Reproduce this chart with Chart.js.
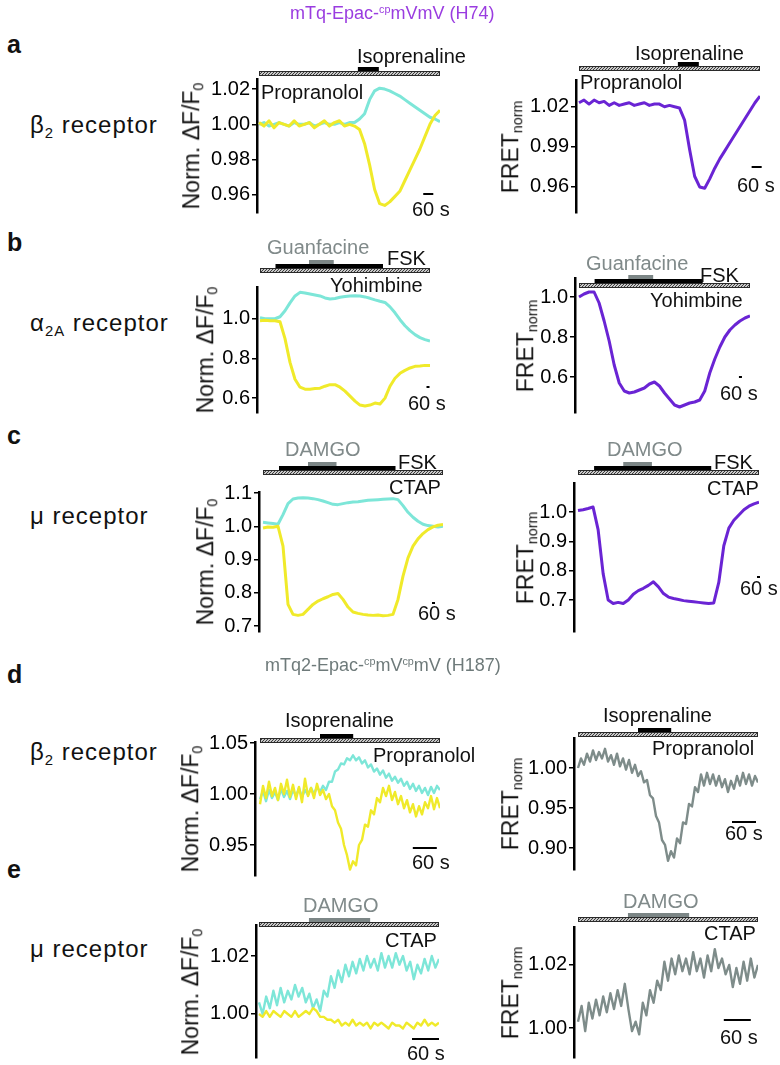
<!DOCTYPE html>
<html>
<head>
<meta charset="utf-8">
<script src="https://cdn.jsdelivr.net/npm/chart.js@4.4.1/dist/chart.umd.min.js"></script>
<style>
body { margin: 0; background: #fff; }
#fig { position: relative; width: 780px; height: 1065px; overflow: hidden; font-family: "Liberation Sans", Arial, sans-serif; color: #111; }
.t { position: absolute; white-space: nowrap; line-height: 1; font-size: 20px; transform: translateY(-50%); }
.t sup { font-size: 0.6em; vertical-align: 0.55em; }
.t sub { font-size: 0.62em; vertical-align: -0.3em; }
canvas { position: absolute; }
</style>
</head>
<body>
<div id="fig"></div>
<script>
// ---- data ----
// time in seconds for each trace
const aTime = [0,30,60,90,120,150,180,210,240,270,300,330,360,390,420,450,480,510,540,570,600,630,660,690,720,750,780,810,840,870,900,930,960,990,1020,1050,1080];
const aLeftYellow = [1.001,0.999,1.002,0.998,1.001,1.000,0.999,1.002,0.999,1.000,1.001,0.998,1.000,1.002,0.999,1.001,1.002,0.999,1.000,0.999,0.997,0.989,0.977,0.963,0.955,0.954,0.956,0.959,0.962,0.968,0.974,0.980,0.986,0.993,1.000,1.005,1.008];
const aLeftCyan = [1.000,1.001,0.999,1.000,1.001,1.000,0.999,1.001,1.000,1.000,1.001,0.999,1.000,1.001,1.000,1.000,1.001,1.000,1.001,1.001,1.003,1.006,1.014,1.019,1.0205,1.020,1.019,1.0175,1.016,1.014,1.012,1.010,1.008,1.006,1.004,1.003,1.0015];
const aRightFret = [1.023,1.025,1.022,1.025,1.023,1.024,1.021,1.023,1.021,1.022,1.023,1.021,1.022,1.023,1.021,1.022,1.022,1.020,1.021,1.020,1.019,1.010,0.988,0.968,0.960,0.959,0.966,0.974,0.981,0.987,0.993,0.999,1.005,1.011,1.017,1.023,1.028];

const bTime = [0,100,200,300,400,500,600,700,800,900,1000,1100,1200,1300,1400,1500,1600,1700,1800,1900,2000,2100,2200,2300,2400,2500,2600,2700,2800,2900,3000,3100,3200,3300,3400];
const bLeftYellow = [0.99,0.992,0.99,0.99,0.985,0.90,0.78,0.695,0.655,0.645,0.645,0.648,0.650,0.660,0.668,0.668,0.655,0.635,0.61,0.585,0.565,0.56,0.565,0.575,0.57,0.60,0.66,0.70,0.725,0.74,0.752,0.76,0.762,0.765,0.765];
const bLeftCyan = [1.005,1.0,1.0,1.0,1.01,1.04,1.08,1.115,1.133,1.13,1.125,1.12,1.115,1.105,1.10,1.102,1.108,1.112,1.115,1.116,1.115,1.11,1.103,1.095,1.088,1.082,1.06,1.03,0.995,0.965,0.94,0.92,0.905,0.895,0.888];
const bRightFret = [1.0,1.015,1.025,1.025,0.97,0.88,0.78,0.66,0.57,0.53,0.52,0.525,0.535,0.545,0.565,0.575,0.555,0.52,0.49,0.46,0.45,0.46,0.47,0.475,0.485,0.53,0.62,0.69,0.75,0.80,0.835,0.86,0.88,0.895,0.905];

const cTime = [0,100,200,300,400,500,600,700,800,900,1000,1100,1200,1300,1400,1500,1600,1700,1800,1900,2000,2100,2200,2300,2400,2500,2600,2700,2800,2900,3000,3100,3200,3300,3400,3500,3600];
const cLeftYellow = [0.995,0.998,0.997,1.0,0.94,0.765,0.735,0.732,0.735,0.75,0.765,0.775,0.782,0.788,0.795,0.798,0.78,0.757,0.742,0.738,0.735,0.733,0.732,0.733,0.731,0.732,0.735,0.78,0.85,0.905,0.94,0.962,0.978,0.99,0.998,1.003,1.005];
const cLeftCyan = [1.012,1.010,1.008,1.006,1.035,1.068,1.082,1.085,1.086,1.085,1.083,1.080,1.076,1.071,1.066,1.065,1.068,1.071,1.073,1.074,1.076,1.078,1.079,1.080,1.081,1.082,1.083,1.080,1.062,1.042,1.027,1.015,1.006,1.002,1.0,0.998,1.0];
const cRightFret = [1.005,1.008,1.012,1.017,0.94,0.79,0.70,0.688,0.692,0.688,0.70,0.72,0.732,0.74,0.75,0.762,0.745,0.722,0.71,0.705,0.702,0.698,0.696,0.694,0.692,0.690,0.688,0.69,0.76,0.885,0.945,0.972,0.99,1.008,1.02,1.028,1.034];

const dTime = [0,7.5,15,22.5,30,37.5,45,52.5,60,67.5,75,82.5,90,97.5,105,112.5,120,127.5,135,142.5,150,157.5,165,172.5,180,187.5,195,202.5,210,217.5,225,232.5,240,247.5,255,262.5,270,277.5,285,292.5,300,307.5,315,322.5,330,337.5,345,352.5,360,367.5,375,382.5,390,397.5,405,412.5,420,427.5,435,442.5,450];
const dLeftYellow = [0.990,1.008,0.996,1.012,0.998,1.006,0.994,1.010,1.000,1.014,0.997,1.009,0.995,1.007,0.992,1.015,0.998,1.006,0.996,1.010,0.999,1.004,0.995,1.000,0.988,0.984,0.972,0.966,0.950,0.940,0.926,0.934,0.930,0.950,0.955,0.970,0.968,0.984,0.980,0.996,0.992,1.006,0.998,1.008,0.994,1.002,0.990,0.998,0.986,0.994,0.982,0.990,0.978,0.988,0.980,0.992,0.986,0.998,0.985,0.996,0.986];
const dLeftCyan = [0.995,1.003,0.993,1.004,0.996,1.002,0.994,1.005,0.997,1.003,0.995,1.004,0.998,1.006,0.997,1.004,0.999,1.006,1.000,1.007,1.002,1.008,1.004,1.012,1.012,1.022,1.024,1.030,1.029,1.035,1.033,1.038,1.033,1.036,1.030,1.033,1.026,1.029,1.022,1.025,1.019,1.023,1.016,1.020,1.013,1.017,1.011,1.015,1.008,1.012,1.005,1.010,1.003,1.008,1.001,1.006,0.999,1.007,1.001,1.008,1.004];
const dRightFret = [1.000,1.012,1.004,1.018,1.008,1.022,1.010,1.020,1.012,1.024,1.008,1.016,1.004,1.018,1.002,1.012,0.998,1.010,0.994,1.004,0.990,0.996,0.982,0.985,0.966,0.962,0.940,0.932,0.910,0.904,0.884,0.896,0.888,0.912,0.906,0.932,0.930,0.955,0.952,0.976,0.970,0.992,0.978,0.994,0.980,0.992,0.978,0.990,0.976,0.986,0.970,0.984,0.974,0.990,0.978,0.994,0.980,0.992,0.978,0.990,0.982];

const eTime = [0,8,16,24,32,40,48,56,64,72,80,88,96,104,112,120,128,136,144,152,160,168,176,184,192,200,208,216,224,232,240,248,256,264,272,280,288,296,304,312,320,328,336,344,352,360,368,376,384,392,400];
const eLeftYellow = [1.000,0.999,1.001,0.999,1.001,1.000,0.999,1.001,1.000,0.999,1.001,0.999,1.000,1.001,1.000,1.002,1.001,0.999,0.999,0.998,0.998,0.997,0.998,0.996,0.997,0.996,0.998,0.996,0.997,0.996,0.997,0.995,0.997,0.996,0.997,0.996,0.995,0.997,0.996,0.996,0.995,0.997,0.996,0.995,0.997,0.996,0.998,0.996,0.997,0.996,0.997];
const eLeftCyan = [1.004,1.000,1.006,1.002,1.008,1.003,1.009,1.004,1.008,1.005,1.010,1.006,1.009,1.004,1.007,1.002,1.005,1.001,1.008,1.006,1.013,1.009,1.015,1.011,1.017,1.013,1.018,1.014,1.019,1.015,1.020,1.016,1.019,1.015,1.021,1.016,1.020,1.016,1.021,1.017,1.020,1.015,1.018,1.012,1.017,1.014,1.019,1.015,1.020,1.016,1.019];
const eRightFret = [1.002,1.007,0.999,1.008,1.003,1.009,1.004,1.010,1.005,1.011,1.006,1.012,1.007,1.014,1.006,0.999,1.002,0.998,1.008,1.004,1.012,1.008,1.015,1.012,1.021,1.015,1.022,1.017,1.023,1.018,1.022,1.017,1.024,1.018,1.022,1.016,1.023,1.018,1.025,1.019,1.022,1.017,1.020,1.013,1.019,1.014,1.021,1.015,1.022,1.016,1.020];

// drug application windows (s)
const isoprenalineA = [590, 715];
const fskB = [310, 2460];
const guanfacineB = [980, 1475];
const fskC = [320, 2650];
const damgoC = [900, 1470];
const isoprenalineD = [150, 233];
const damgoE = [111, 247];

// y tick labels
const aLeftTicks = ['0.96','0.98','1.00','1.02'];
const aRightTicks = ['0.96','0.99','1.02'];
const bTicks = ['0.6','0.8','1.0'];
const cLeftTicks = ['0.7','0.8','0.9','1.0','1.1'];
const cRightTicks = ['0.7','0.8','0.9','1.0'];
const dLeftTicks = ['0.95','1.00','1.05'];
const dRightTicks = ['0.90','0.95','1.00'];
const eTicks = ['1.00','1.02'];

const SCALE_BAR_S = 60;

// ---- styles ----
const YELLOW = '#f0ea2a', CYAN = '#7de6d8', PURPLE = '#6a24d4', GREY = '#7e8c8a';
const BLACK = '#000', DRUG_GREY = '#7c8686', LABEL_GREY = '#808a8a';

const panels = [
  { t: aTime, series: [[aLeftYellow, YELLOW], [aLeftCyan, CYAN]], ticks: aLeftTicks, yMin: 0.9497, yMax: 1.0257, T: 1080,
    axisX: 257, top: 79, bottom: 213, x0: 259, x1: 440, hatchY: 71, bars: [{ r: isoprenalineA, c: BLACK, lv: 1 }], sb: 980, sbY: 194, title: 'norm', titleX: 193, lw: 3 },
  { t: aTime, series: [[aRightFret, PURPLE]], ticks: aRightTicks, yMin: 0.9405, yMax: 1.040, T: 1080,
    axisX: 576, top: 80, bottom: 213, x0: 579, x1: 760, hatchY: 66, bars: [{ r: isoprenalineA, c: BLACK, lv: 1 }], sb: 1030, sbY: 167, title: 'fret', titleX: 512, lw: 3 },
  { t: bTime, series: [[bLeftYellow, YELLOW], [bLeftCyan, CYAN]], ticks: bTicks, yMin: 0.525, yMax: 1.16, T: 3400,
    axisX: 257, top: 287, bottom: 413, x0: 260, x1: 430, hatchY: 268, bars: [{ r: fskB, c: BLACK, lv: 1 }, { r: guanfacineB, c: DRUG_GREY, lv: 2 }], sb: 3330, sbY: 387, title: 'norm', titleX: 207, lw: 3 },
  { t: bTime, series: [[bRightFret, PURPLE]], ticks: bTicks, yMin: 0.42, yMax: 1.095, T: 3400,
    axisX: 575, top: 278, bottom: 413, x0: 579, x1: 750, hatchY: 283, bars: [{ r: fskB, c: BLACK, lv: 1 }, { r: guanfacineB, c: DRUG_GREY, lv: 2 }], sb: 3180, sbY: 377, title: 'fret', titleX: 527, lw: 3 },
  { t: cTime, series: [[cLeftYellow, YELLOW], [cLeftCyan, CYAN]], ticks: cLeftTicks, yMin: 0.682, yMax: 1.103, T: 3600,
    axisX: 259, top: 492, bottom: 632, x0: 263, x1: 443, hatchY: 470, bars: [{ r: fskC, c: BLACK, lv: 1 }, { r: damgoC, c: DRUG_GREY, lv: 2 }], sb: 3380, sbY: 603, title: 'norm', titleX: 207, lw: 3 },
  { t: cTime, series: [[cRightFret, PURPLE]], ticks: cRightTicks, yMin: 0.591, yMax: 1.099, T: 3600,
    axisX: 574, top: 483, bottom: 632, x0: 578, x1: 759, hatchY: 470, bars: [{ r: fskC, c: BLACK, lv: 1 }, { r: damgoC, c: DRUG_GREY, lv: 2 }], sb: 3560, sbY: 577, title: 'fret', titleX: 527, lw: 3 },
  { t: dTime, series: [[dLeftYellow, YELLOW], [dLeftCyan, CYAN]], ticks: dLeftTicks, yMin: 0.9196, yMax: 1.051, T: 450,
    axisX: 255, top: 742, bottom: 876, x0: 260, x1: 440, hatchY: 738, bars: [{ r: isoprenalineD, c: BLACK, lv: 1 }], sb: 382, sbY: 848, title: 'norm', titleX: 192, lw: 2.4 },
  { t: dTime, series: [[dRightFret, GREY]], ticks: dRightTicks, yMin: 0.8725, yMax: 1.0375, T: 450,
    axisX: 574, top: 738, bottom: 870, x0: 578, x1: 758, hatchY: 732, bars: [{ r: isoprenalineD, c: BLACK, lv: 1 }], sb: 385, sbY: 822, title: 'fret', titleX: 512, lw: 2.4 },
  { t: eTime, series: [[eLeftYellow, YELLOW], [eLeftCyan, CYAN]], ticks: eTicks, yMin: 0.9848, yMax: 1.0307, T: 400,
    axisX: 256, top: 925, bottom: 1058, x0: 259, x1: 439, hatchY: 922, bars: [{ r: damgoE, c: DRUG_GREY, lv: 1 }], sb: 340, sbY: 1039, title: 'norm', titleX: 192, lw: 2.4 },
  { t: eTime, series: [[eRightFret, GREY]], ticks: eTicks, yMin: 0.9905, yMax: 1.032, T: 400,
    axisX: 574, top: 927, bottom: 1058, x0: 578, x1: 758, hatchY: 917, bars: [{ r: damgoE, c: DRUG_GREY, lv: 1 }], sb: 324, sbY: 1020, title: 'fret', titleX: 512, lw: 2.4 }
];

const fig = document.getElementById('fig');

function addText(x, y, html, extra) {
  const d = document.createElement('div');
  d.className = 't';
  d.innerHTML = html;
  d.style.left = x + 'px';
  d.style.top = y + 'px';
  if (extra) Object.assign(d.style, extra);
  fig.appendChild(d);
  return d;
}

function hatch(ctx) {
  const c = document.createElement('canvas');
  c.width = 3; c.height = 3;
  const g = c.getContext('2d');
  g.fillStyle = '#c8c8c8';
  g.fillRect(0, 0, 3, 3);
  g.strokeStyle = '#3c3c3c';
  g.lineWidth = 1;
  g.beginPath(); g.moveTo(0, 3); g.lineTo(3, 0); g.stroke();
  return ctx.createPattern(c, 'repeat');
}

// draws the drug bars and the 60 s scale bar using the x scale
function overlay(p) {
  return {
    id: 'overlay',
    afterDraw(chart) {
      const ctx = chart.ctx, xs = chart.scales.x;
      const y = p.hatchY - p.cTop;
      const xa = xs.getPixelForValue(0), xb = xs.getPixelForValue(p.T);
      ctx.save();
      ctx.fillStyle = hatch(ctx);
      ctx.fillRect(xa, y, xb - xa, 5);
      ctx.strokeStyle = '#2a2a2a';
      ctx.lineWidth = 1;
      ctx.strokeRect(xa + 0.5, y + 0.5, xb - xa - 1, 4);
      p.bars.forEach(b => {
        const u = xs.getPixelForValue(b.r[0]), v = xs.getPixelForValue(b.r[1]);
        ctx.fillStyle = b.c;
        ctx.fillRect(u, y - 4 * b.lv, v - u, 4);
      });
      const s0 = xs.getPixelForValue(p.sb), s1 = xs.getPixelForValue(p.sb + SCALE_BAR_S);
      ctx.strokeStyle = '#000';
      ctx.lineWidth = 2;
      ctx.beginPath();
      ctx.moveTo(s0, p.sbY - p.cTop);
      ctx.lineTo(s1, p.sbY - p.cTop);
      ctx.stroke();
      ctx.restore();
    }
  };
}

const PADT = 72, PADB = 14, YW = 62, PADR = 3;

panels.forEach(p => {
  p.cTop = p.top - PADT;
  const w = p.x1 - p.axisX + YW + PADR, h = p.bottom - p.top + PADT + PADB;
  const cv = document.createElement('canvas');
  cv.width = w; cv.height = h;
  cv.style.left = (p.axisX - YW) + 'px';
  cv.style.top = p.cTop + 'px';
  cv.style.width = w + 'px';
  cv.style.height = h + 'px';
  fig.appendChild(cv);

  const xMin = -(p.x0 - p.axisX) * p.T / (p.x1 - p.x0);

  new Chart(cv, {
    type: 'line',
    data: {
      datasets: p.series.map(s => ({
        data: p.t.map((t, i) => ({ x: t, y: s[0][i] })),
        borderColor: s[1],
        borderWidth: p.lw,
        pointRadius: 0,
        tension: 0,
        fill: false,
        borderJoinStyle: 'round'
      }))
    },
    options: {
      responsive: false,
      animation: false,
      devicePixelRatio: 1,
      layout: { padding: { top: PADT, bottom: PADB, left: 0, right: PADR } },
      plugins: { legend: { display: false }, tooltip: { enabled: false } },
      scales: {
        x: { type: 'linear', min: xMin, max: p.T, display: false },
        y: {
          min: p.yMin, max: p.yMax,
          afterBuildTicks: s => { s.ticks = p.ticks.map(v => ({ value: parseFloat(v) })); },
          afterFit: s => { s.width = YW; },
          ticks: {
            autoSkip: false,
            color: '#000',
            padding: 2,
            font: { family: 'Liberation Sans', size: 20 },
            callback: v => p.ticks.find(l => Math.abs(parseFloat(l) - v) < 1e-9)
          },
          grid: { drawOnChartArea: false, drawTicks: true, tickLength: 5, color: '#000', lineWidth: 1.5 },
          border: { display: true, color: '#000', width: 2.5 }
        }
      }
    },
    plugins: [overlay(p)]
  });

  const title = p.title === 'norm' ? 'Norm. &Delta;F/F<sub>0</sub>' : 'FRET<sub>norm</sub>';
  addText(p.titleX, (p.top + p.bottom) / 2, title,
    { fontSize: '23px', transform: 'translate(-50%,-50%) rotate(-90deg)' });
});

// ---- text ----
addText(290, 13, 'mTq-Epac-<sup>cp</sup>mVmV (H74)', { fontSize: '18px', color: '#9a3ce0' });
addText(265, 665, 'mTq2-Epac-<sup>cp</sup>mV<sup>cp</sup>mV (H187)', { fontSize: '18px', color: '#6e7a7a' });

[['a', 44], ['b', 242], ['c', 435], ['d', 674], ['e', 869]].forEach(l =>
  addText(7, l[1], l[0], { fontSize: '25px', fontWeight: 'bold', fontFamily: 'Arial, "Liberation Sans", sans-serif' }));

const rec = { fontSize: '24px', letterSpacing: '1px' };
addText(30, 127, '&beta;<sub>2</sub> receptor', rec);
addText(30, 325, '&alpha;<sub>2A</sub> receptor', rec);
addText(30, 516, '&mu; receptor', rec);
addText(30, 754, '&beta;<sub>2</sub> receptor', rec);
addText(30, 949, '&mu; receptor', rec);

const grey = { color: LABEL_GREY };
const labels = [
  [357, 56, 'Isoprenaline'], [261, 92, 'Propranolol'], [412, 209, '60 s'],
  [635, 53, 'Isoprenaline'], [580, 82, 'Propranolol'], [737, 185, '60 s'],
  [267, 247, 'Guanfacine', grey], [387, 258, 'FSK'], [330, 285, 'Yohimbine'], [408, 403, '60 s'],
  [586, 263, 'Guanfacine', grey], [700, 275, 'FSK'], [650, 300, 'Yohimbine'], [720, 393, '60 s'],
  [285, 449, 'DAMGO', grey], [398, 462, 'FSK'], [389, 487, 'CTAP'], [418, 613, '60 s'],
  [607, 449, 'DAMGO', grey], [714, 462, 'FSK'], [707, 488, 'CTAP'], [740, 588, '60 s'],
  [285, 720, 'Isoprenaline'], [373, 755, 'Propranolol'], [412, 862, '60 s'],
  [603, 715, 'Isoprenaline'], [652, 748, 'Propranolol'], [725, 833, '60 s'],
  [303, 905, 'DAMGO', grey], [385, 940, 'CTAP'], [407, 1053, '60 s'],
  [623, 901, 'DAMGO', grey], [704, 933, 'CTAP'], [720, 1037, '60 s']
];
labels.forEach(l => addText(l[0], l[1], l[2], l[3]));
</script>
</body>
</html>
